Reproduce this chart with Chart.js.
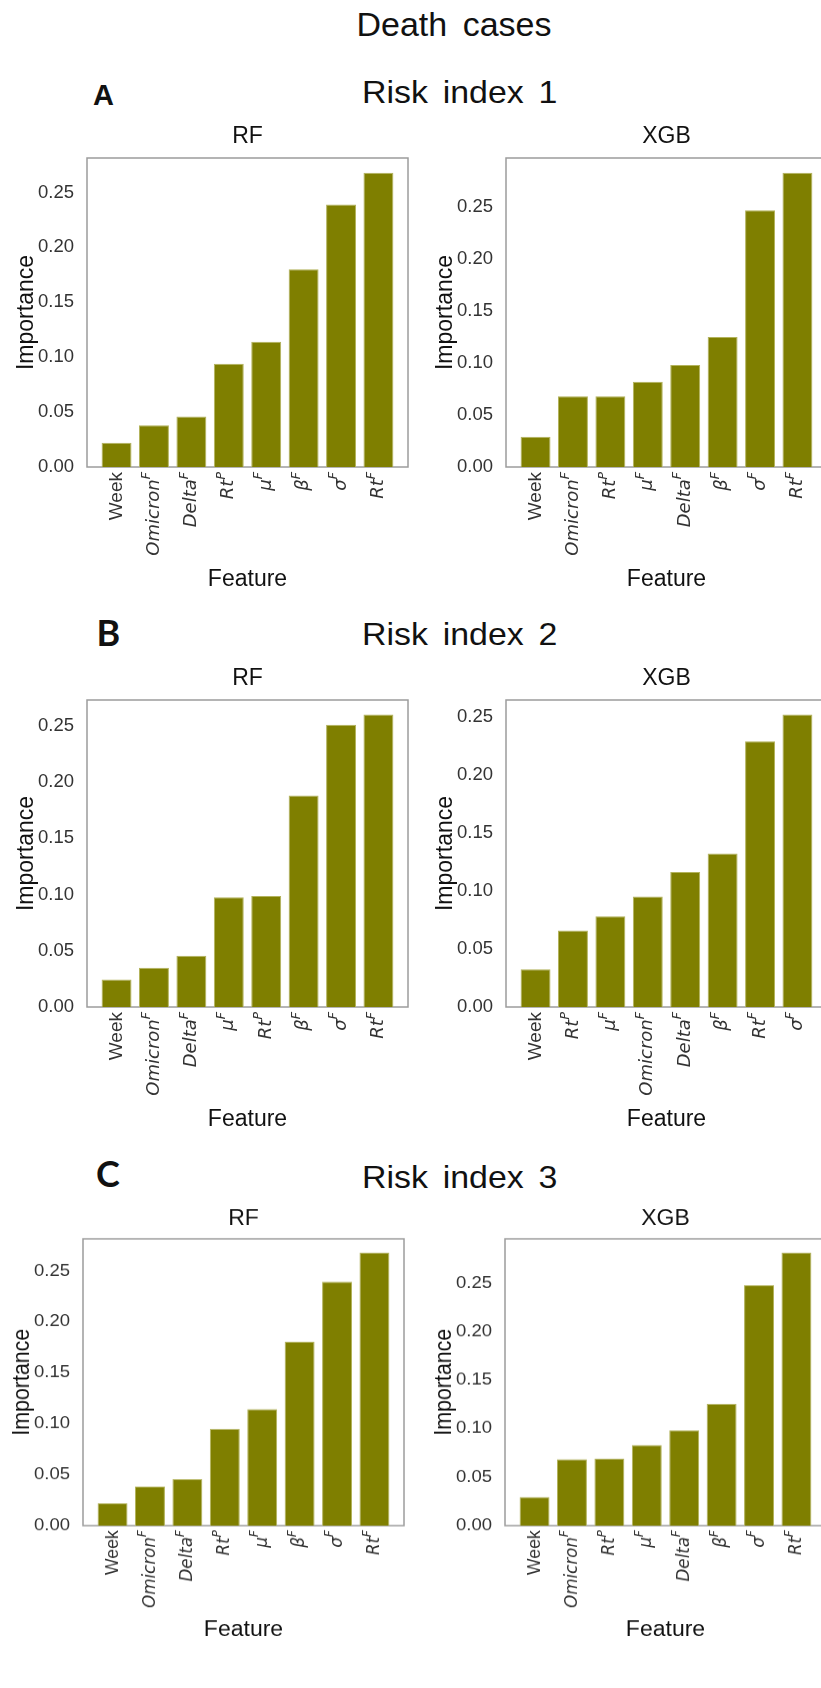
<!DOCTYPE html>
<html>
<head>
<meta charset="utf-8">
<title>Death cases</title>
<script src="https://cdn.jsdelivr.net/npm/chart.js@4.4.1/dist/chart.umd.min.js"></script>
<style>
  html, body { margin: 0; padding: 0; background: #fff; }
  body { width: 821px; height: 1688px; overflow: hidden; position: relative; }
  canvas { position: absolute; }
  svg { position: absolute; left: 0; top: 0; }
</style>
</head>
<body>
<svg width="821" height="1688" font-family="'Liberation Sans', Arial, sans-serif" fill="#111">
  <text x="454" y="36" font-size="34" text-anchor="middle" word-spacing="6">Death cases</text>
  <text x="93" y="105" font-size="29" font-weight="bold">A</text>
  <text transform="translate(362 103.3) scale(1.06 1)" font-size="32" word-spacing="5">Risk index 1</text>
  <text x="96.5" y="646" font-size="36" font-weight="bold" font-family="Lato">B</text>
  <text transform="translate(362 645) scale(1.06 1)" font-size="32" word-spacing="5">Risk index 2</text>
  <text x="96" y="1187" font-size="36" font-weight="bold" font-family="Lato">C</text>
  <text transform="translate(362 1188.3) scale(1.06 1)" font-size="32" word-spacing="5">Risk index 3</text>
</svg>

<canvas id="rf1"></canvas>
<canvas id="xgb1"></canvas>
<canvas id="rf2"></canvas>
<canvas id="xgb2"></canvas>
<canvas id="rf3"></canvas>
<canvas id="xgb3"></canvas>

<script>
// feature names use "^" for the superscript part
const rf1Features = ['Week', 'Omicron^F', 'Delta^F', 'Rt^P', 'μ^F', 'β^F', 'σ^F', 'Rt^F'];
const rf1Importance = [0.022, 0.038, 0.046, 0.094, 0.114, 0.180, 0.239, 0.268];

const xgb1Features = ['Week', 'Omicron^F', 'Rt^P', 'μ^F', 'Delta^F', 'β^F', 'σ^F', 'Rt^F'];
const xgb1Importance = [0.029, 0.068, 0.068, 0.082, 0.098, 0.125, 0.247, 0.283];

const rf2Features = ['Week', 'Omicron^F', 'Delta^F', 'μ^F', 'Rt^P', 'β^F', 'σ^F', 'Rt^F'];
const rf2Importance = [0.0245, 0.035, 0.0456, 0.0975, 0.0986, 0.188, 0.251, 0.260];

const xgb2Features = ['Week', 'Rt^P', 'μ^F', 'Omicron^F', 'Delta^F', 'β^F', 'Rt^F', 'σ^F'];
const xgb2Importance = [0.0326, 0.066, 0.0783, 0.0953, 0.1163, 0.1324, 0.229, 0.252];

const rf3Features = ['Week', 'Omicron^F', 'Delta^F', 'Rt^P', 'μ^F', 'β^F', 'σ^F', 'Rt^F'];
const rf3Importance = [0.0219, 0.0383, 0.0455, 0.095, 0.1143, 0.1806, 0.2392, 0.268];

const xgb3Features = ['Week', 'Omicron^F', 'Rt^P', 'μ^F', 'Delta^F', 'β^F', 'σ^F', 'Rt^F'];
const xgb3Importance = [0.0293, 0.0683, 0.069, 0.083, 0.0983, 0.1255, 0.2476, 0.2813];

const yTickValues = [0, 0.05, 0.10, 0.15, 0.20, 0.25];

const FONT = "'Liberation Sans', Arial, sans-serif";
const MATH_FONT = "'DejaVu Sans', sans-serif";
const BAR_COLOR = '#7f7f00';
const TITLE_H = 44;
const XAXIS_H = 130;
const YAXIS_W = 87;

// grey frame around the plot area
const framePlugin = {
  id: 'frame',
  beforeDatasetsDraw(chart) {
    const { ctx, chartArea: a } = chart;
    ctx.save();
    ctx.strokeStyle = '#9c9c9c';
    ctx.lineWidth = 1.5;
    ctx.strokeRect(a.left, a.top, a.right - a.left, a.bottom - a.top);
    ctx.restore();
  }
};

// rotated feature labels with italic math + superscript
const featureTicksPlugin = {
  id: 'featureTicks',
  afterDraw(chart) {
    const { ctx, chartArea, scales: { x } } = chart;
    ctx.save();
    ctx.fillStyle = '#333';
    ctx.textBaseline = 'middle';
    ctx.textAlign = 'left';
    chart.data.labels.forEach((name, i) => {
      const [base, sup] = name.split('^');
      const mainFont = sup ? `italic 18px ${MATH_FONT}` : `19px ${FONT}`;
      const supFont = `italic 12.6px ${MATH_FONT}`;
      ctx.font = mainFont;
      const wb = ctx.measureText(base).width;
      let ws = 0;
      if (sup) {
        ctx.font = supFont;
        ws = ctx.measureText(sup).width;
      }
      ctx.save();
      ctx.translate(x.getPixelForValue(i), chartArea.bottom + 5);
      ctx.rotate(-Math.PI / 2);
      const start = -(wb + ws);
      ctx.font = mainFont;
      ctx.fillText(base, start, 0);
      if (sup) {
        ctx.font = supFont;
        ctx.fillText(sup, start + wb, -7);
      }
      ctx.restore();
    });
    ctx.restore();
  }
};

const panels = [
  { id: 'rf1', title: 'RF', features: rf1Features, values: rf1Importance, left: 0, top: 114, boxH: 309 },
  { id: 'xgb1', title: 'XGB', features: xgb1Features, values: xgb1Importance, left: 419, top: 114, boxH: 309 },
  { id: 'rf2', title: 'RF', features: rf2Features, values: rf2Importance, left: 0, top: 656, boxH: 307 },
  { id: 'xgb2', title: 'XGB', features: xgb2Features, values: xgb2Importance, left: 419, top: 656, boxH: 307 },
  { id: 'rf3', title: 'RF', features: rf3Features, values: rf3Importance, left: -4, top: 1197.7, boxH: 309, squash: 0.928 },
  { id: 'xgb3', title: 'XGB', features: xgb3Features, values: xgb3Importance, left: 417.5, top: 1197.7, boxH: 309, squash: 0.928 }
];

const makeChart = (p) => {
  const canvas = document.getElementById(p.id);
  canvas.width = 411;
  canvas.height = TITLE_H + p.boxH + XAXIS_H;
  canvas.style.left = p.left + 'px';
  canvas.style.top = p.top + 'px';
  if (p.squash) {
    canvas.style.transformOrigin = '0 0';
    canvas.style.transform = `scaleY(${p.squash})`;
  }

  return new Chart(canvas, {
    type: 'bar',
    data: {
      labels: p.features,
      datasets: [{
        data: p.values.map((v, i) => ({ x: i, y: v })),
        backgroundColor: BAR_COLOR,
        borderColor: '#b3b35c',
        borderWidth: 1,
        categoryPercentage: 1,
        barPercentage: 0.8
      }]
    },
    options: {
      responsive: false,
      animation: false,
      devicePixelRatio: 1,
      layout: { padding: { left: 0, right: 3, top: 0, bottom: 0 } },
      plugins: {
        legend: { display: false },
        tooltip: { enabled: false },
        title: {
          display: true,
          fullSize: false,
          text: p.title,
          color: '#111',
          font: { family: FONT, size: 23, weight: 'normal', lineHeight: 1.2 },
          padding: { top: 8.6, bottom: 7.8 }
        }
      },
      scales: {
        x: {
          type: 'linear',
          min: -0.79,
          max: 7.79,
          offset: false,
          grid: { display: false, offset: false },
          border: { display: false },
          ticks: { display: false },
          title: {
            display: true,
            text: 'Feature',
            color: '#111',
            font: { family: FONT, size: 23, lineHeight: 1.2 },
            padding: { top: 0, bottom: 4 }
          },
          afterFit: (scale) => { scale.height = XAXIS_H; }
        },
        y: {
          min: 0,
          max: Math.max(...p.values) * 1.05,
          grid: { display: false },
          border: { display: false },
          afterBuildTicks: (scale) => { scale.ticks = yTickValues.map(v => ({ value: v })); },
          ticks: {
            padding: 5,
            color: '#333',
            font: { family: FONT, size: 18.5 },
            callback: (v) => Number(v).toFixed(2)
          },
          title: {
            display: true,
            text: 'Importance',
            color: '#111',
            font: { family: FONT, size: 23, lineHeight: 1.2 },
            padding: { top: 13, bottom: 0 }
          },
          afterFit: (scale) => { scale.width = YAXIS_W; }
        }
      }
    },
    plugins: [framePlugin, featureTicksPlugin]
  });
};

panels.forEach(makeChart);
</script>
</body>
</html>
